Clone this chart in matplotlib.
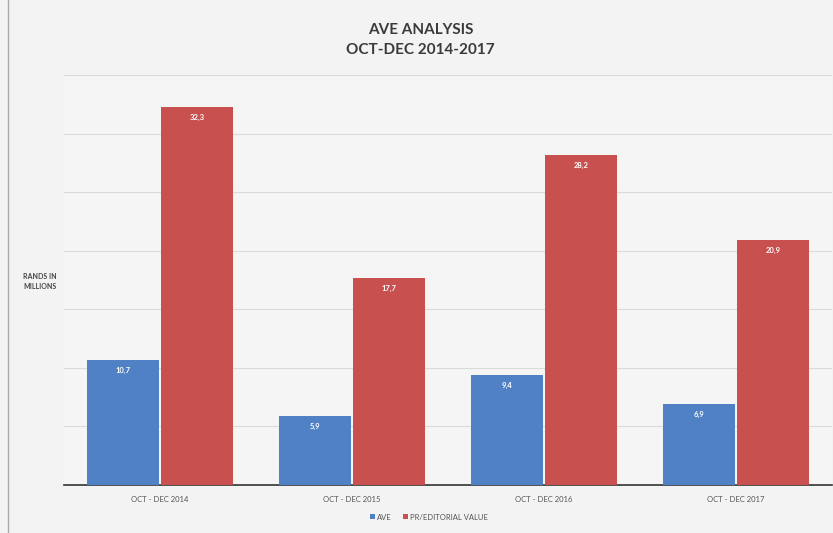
import matplotlib
matplotlib.use("Agg")
import matplotlib.pyplot as plt
import numpy as np

categories = ["OCT - DEC 2014", "OCT - DEC 2015", "OCT - DEC 2016", "OCT - DEC 2017"]
ave_values = [10.7, 5.9, 9.4, 6.9]
pr_values = [32.3, 17.7, 28.2, 20.9]
ave_labels = ["10,7", "5,9", "9,4", "6,9"]
pr_labels = ["32,3", "17,7", "28,2", "20,9"]
series_names = ["AVE", "PR/EDITORIAL VALUE"]

plt.rcParams['font.family'] = ['Lato', 'DejaVu Sans']

fig = plt.figure(figsize=(8.33, 5.33), dpi=100, facecolor="#f3f3f3")
ax = fig.add_axes([0.077, 0.090, 0.922, 0.769])
ax.set_facecolor("#f5f5f5")

blue = "#4f81c4"
red = "#c8504e"
x = np.arange(len(categories))
w = 0.375
b1 = ax.bar(x - w / 2 - 0.005, ave_values, width=w, color=blue, label=series_names[0], zorder=3)
b2 = ax.bar(x + w / 2 + 0.005, pr_values, width=w, color=red, label=series_names[1], zorder=3)

for rect, lab in zip(b1, ave_labels):
    ax.text(rect.get_x() + rect.get_width() / 2, rect.get_height() - 0.6, lab,
            ha="center", va="top", color="white", fontsize=5.5, fontweight="bold", zorder=4)
for rect, lab in zip(b2, pr_labels):
    ax.text(rect.get_x() + rect.get_width() / 2, rect.get_height() - 0.6, lab,
            ha="center", va="top", color="white", fontsize=5.5, fontweight="bold", zorder=4)

ax.set_xlim(-0.5, len(categories) - 0.5)
ax.set_ylim(0, 35)
ax.set_yticks(np.arange(0, 36, 5))
ax.yaxis.grid(True, color="#dadada", linewidth=0.8, zorder=0)
ax.tick_params(axis="y", length=0, labelleft=False)
ax.set_xticks(x)
ax.set_xticklabels(categories, fontsize=5.5, color="#555555")
ax.tick_params(axis="x", length=0, pad=8)
for s in ["top", "right", "left"]:
    ax.spines[s].set_visible(False)
ax.spines["bottom"].set_color("#333333")
ax.spines["bottom"].set_linewidth(1.2)

fig.text(0.505, 0.944, "AVE ANALYSIS", ha="center", va="center", fontsize=11,
         fontweight="bold", color="#3a3a3a")
fig.text(0.505, 0.906, "OCT-DEC 2014-2017", ha="center", va="center", fontsize=11,
         fontweight="bold", color="#3a3a3a")
fig.text(0.028, 0.472, "RANDS IN\nMILLIONS", ha="left", va="center", fontsize=5,
         fontweight="bold", color="#444444", linespacing=1.6, multialignment="left")

leg = fig.legend(handles=[b1, b2], labels=series_names, loc="center", bbox_to_anchor=(0.515, 0.030),
                 ncol=2, frameon=False, fontsize=5.5, handlelength=0.6, handleheight=0.6,
                 columnspacing=1.5, handletextpad=0.3)
for t in leg.get_texts():
    t.set_color("#555555")

fig.add_artist(plt.Line2D([0.010, 0.010], [0.0, 1.0], color="#aaaaaa", linewidth=1.0))

fig.savefig("out.png", dpi=100, facecolor=fig.get_facecolor())
